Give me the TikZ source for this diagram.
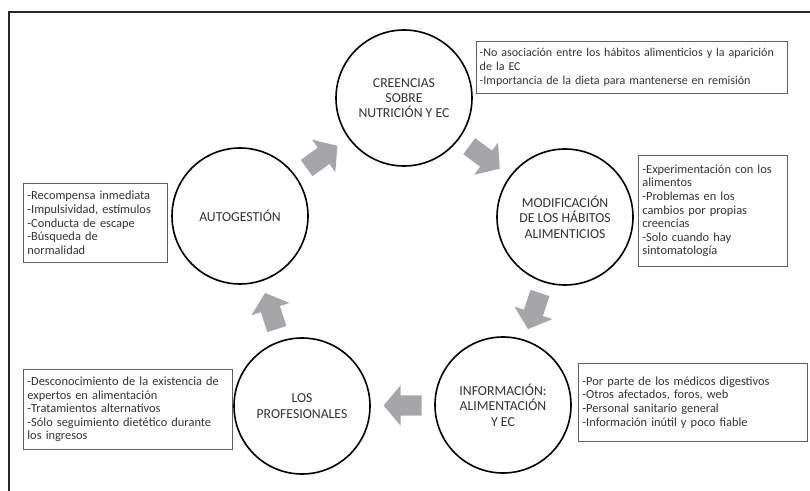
\documentclass[tikz,border=0pt]{standalone}
\usepackage{fontspec}
\setmainfont{Carlito}
\usetikzlibrary{calc}
\definecolor{arrowgray}{RGB}{166,166,168}
\definecolor{boxline}{RGB}{95,95,95}
\definecolor{txt}{RGB}{50,50,50}
\definecolor{framec}{RGB}{40,40,40}
\hyphenpenalty=10000
\exhyphenpenalty=10000
\begin{document}
\begin{tikzpicture}[x=0.75pt,y=-0.75pt,
  circ/.style={circle, draw=black, line width=1.2pt, minimum size=102pt, inner sep=0pt,
    align=center, text=txt, font=\fontsize{10.3}{11.5}\selectfont},
  infobox/.style={draw=boxline, line width=0.6pt, anchor=north west, inner xsep=3pt,
    inner ysep=2pt, align=left, text=txt, font=\fontsize{9.3}{10.2}\selectfont},
  blockarrow/.pic={\fill[arrowgray] (-19,-10) -- (2,-10) -- (2,-20) -- (19,0) -- (2,20) -- (2,10) -- (-19,10) -- cycle;}]
\useasboundingbox (0,0) rectangle (810,491);
% frame
\draw[framec, line width=1.1pt] (9,495) -- (9,12) -- (815,12);
% circles
\node[circ] (cre) at (404,98) {CREENCIAS\\SOBRE\\NUTRICIÓN Y EC};
\node[circ] (mod) at (565,217) {MODIFICACIÓN\\DE LOS HÁBITOS\\ALIMENTICIOS};
\node[circ] (aut) at (240,216) {AUTOGESTIÓN};
\node[circ] (pro) at (302,406) {LOS\\PROFESIONALES};
\node[circ] (inf) at (503,405) {INFORMACIÓN:\\ALIMENTACIÓN\\Y EC};
% arrows between circles
\pic[rotate=35.7] at ($(aut)!0.5!(cre)$) {blockarrow};
\pic[rotate=-36.5] at ($(cre)!0.5!(mod)$) {blockarrow};
\pic[rotate=-108.3] at ($(mod)!0.5!(inf)$) {blockarrow};
\pic[rotate=180] at ($(inf)!0.5!(pro)$) {blockarrow};
\pic[rotate=108] at ($(pro)!0.5!(aut)$) {blockarrow};
% boxes
\node[infobox, inner xsep=2.5pt, text width=228.2pt, minimum height=39pt, font=\fontsize{9}{10.5}\selectfont] (bA) at (476,41)
  {-No asociación entre los hábitos alimenticios y la aparición\\de la EC\\-Importancia de la dieta para mantenerse en remisión};
\node[infobox, text width=105.7pt, minimum height=83.2pt] (bB) at (638,155)
  {-Experimentación con los\\alimentos\\-Problemas en los\\cambios por propias\\creencias\\-Solo cuando hay\\sintomatología};
\node[infobox, text width=102pt, minimum height=59.2pt] (bC) at (23,183)
  {-Recompensa inmediata\\-Impulsividad, estímulos\\-Conducta de escape\\-Búsqueda de\\normalidad};
\node[infobox, text width=150.7pt, minimum height=60pt] (bD) at (23,369)
  {-Desconocimiento de la existencia de\\expertos en alimentación\\-Tratamientos alternativos\\-Sólo seguimiento dietético durante\\los ingresos};
\node[infobox, text width=165.7pt, minimum height=58.5pt] (bE) at (578,363)
  {-Por parte de los médicos digestivos\\-Otros afectados, foros, web\\-Personal sanitario general\\-Información inútil y poco fiable};
\end{tikzpicture}
\end{document}
